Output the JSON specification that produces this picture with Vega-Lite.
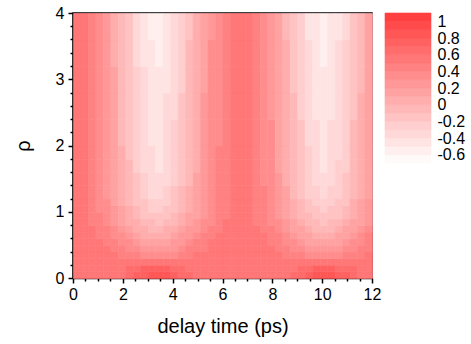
{
"$schema":"https://vega.github.io/schema/vega-lite/v6.json",
"padding":{"left":12,"top":4,"right":2,"bottom":4},
"config":{"view":{"stroke":null},"font":"Liberation Sans","axis":{"labelFont":"Liberation Sans","titleFont":"Liberation Sans","labelColor":"black","titleColor":"black","titleFontWeight":"normal","grid":false,"zindex":1}},
"datasets":{
"a":[
{"t":0.15,"r":0.05,"v":0.55},{"t":0.45,"r":0.05,"v":0.55},{"t":0.75,"r":0.05,"v":0.55},{"t":1.05,"r":0.05,"v":0.55},{"t":1.35,"r":0.05,"v":0.56},{"t":1.65,"r":0.05,"v":0.57},{"t":1.95,"r":0.05,"v":0.59},{"t":2.25,"r":0.05,"v":0.64},{"t":2.55,"r":0.05,"v":0.72},{"t":2.85,"r":0.05,"v":0.79},{"t":3.15,"r":0.05,"v":0.86},{"t":3.45,"r":0.05,"v":0.87},{"t":3.75,"r":0.05,"v":0.82},{"t":4.05,"r":0.05,"v":0.75},{"t":4.35,"r":0.05,"v":0.67},{"t":4.65,"r":0.05,"v":0.61},{"t":4.95,"r":0.05,"v":0.58},{"t":5.25,"r":0.05,"v":0.56},{"t":5.55,"r":0.05,"v":0.55},{"t":5.85,"r":0.05,"v":0.55},{"t":6.15,"r":0.05,"v":0.55},{"t":6.45,"r":0.05,"v":0.55},{"t":6.75,"r":0.05,"v":0.55},{"t":7.05,"r":0.05,"v":0.55},{"t":7.35,"r":0.05,"v":0.55},{"t":7.65,"r":0.05,"v":0.55},{"t":7.95,"r":0.05,"v":0.55},{"t":8.25,"r":0.05,"v":0.56},{"t":8.55,"r":0.05,"v":0.58},{"t":8.85,"r":0.05,"v":0.62},{"t":9.15,"r":0.05,"v":0.68},{"t":9.45,"r":0.05,"v":0.77},{"t":9.75,"r":0.05,"v":0.84},{"t":10.05,"r":0.05,"v":0.87},{"t":10.35,"r":0.05,"v":0.85},{"t":10.65,"r":0.05,"v":0.78},{"t":10.95,"r":0.05,"v":0.70},{"t":11.25,"r":0.05,"v":0.63},{"t":11.55,"r":0.05,"v":0.59},{"t":11.85,"r":0.05,"v":0.56},
{"t":0.15,"r":0.15,"v":0.55},{"t":0.45,"r":0.15,"v":0.55},{"t":0.75,"r":0.15,"v":0.55},{"t":1.05,"r":0.15,"v":0.55},{"t":1.35,"r":0.15,"v":0.55},{"t":1.65,"r":0.15,"v":0.56},{"t":1.95,"r":0.15,"v":0.58},{"t":2.25,"r":0.15,"v":0.61},{"t":2.55,"r":0.15,"v":0.65},{"t":2.85,"r":0.15,"v":0.70},{"t":3.15,"r":0.15,"v":0.74},{"t":3.45,"r":0.15,"v":0.75},{"t":3.75,"r":0.15,"v":0.72},{"t":4.05,"r":0.15,"v":0.67},{"t":4.35,"r":0.15,"v":0.63},{"t":4.65,"r":0.15,"v":0.59},{"t":4.95,"r":0.15,"v":0.57},{"t":5.25,"r":0.15,"v":0.56},{"t":5.55,"r":0.15,"v":0.55},{"t":5.85,"r":0.15,"v":0.55},{"t":6.15,"r":0.15,"v":0.55},{"t":6.45,"r":0.15,"v":0.55},{"t":6.75,"r":0.15,"v":0.55},{"t":7.05,"r":0.15,"v":0.55},{"t":7.35,"r":0.15,"v":0.55},{"t":7.65,"r":0.15,"v":0.55},{"t":7.95,"r":0.15,"v":0.55},{"t":8.25,"r":0.15,"v":0.56},{"t":8.55,"r":0.15,"v":0.57},{"t":8.85,"r":0.15,"v":0.59},{"t":9.15,"r":0.15,"v":0.63},{"t":9.45,"r":0.15,"v":0.68},{"t":9.75,"r":0.15,"v":0.73},{"t":10.05,"r":0.15,"v":0.75},{"t":10.35,"r":0.15,"v":0.74},{"t":10.65,"r":0.15,"v":0.69},{"t":10.95,"r":0.15,"v":0.64},{"t":11.25,"r":0.15,"v":0.60},{"t":11.55,"r":0.15,"v":0.57},{"t":11.85,"r":0.15,"v":0.56},
{"t":0.15,"r":0.25,"v":0.55},{"t":0.45,"r":0.25,"v":0.55},{"t":0.75,"r":0.25,"v":0.55},{"t":1.05,"r":0.25,"v":0.55},{"t":1.35,"r":0.25,"v":0.55},{"t":1.65,"r":0.25,"v":0.55},{"t":1.95,"r":0.25,"v":0.54},{"t":2.25,"r":0.25,"v":0.54},{"t":2.55,"r":0.25,"v":0.55},{"t":2.85,"r":0.25,"v":0.56},{"t":3.15,"r":0.25,"v":0.56},{"t":3.45,"r":0.25,"v":0.56},{"t":3.75,"r":0.25,"v":0.56},{"t":4.05,"r":0.25,"v":0.55},{"t":4.35,"r":0.25,"v":0.54},{"t":4.65,"r":0.25,"v":0.54},{"t":4.95,"r":0.25,"v":0.54},{"t":5.25,"r":0.25,"v":0.55},{"t":5.55,"r":0.25,"v":0.55},{"t":5.85,"r":0.25,"v":0.55},{"t":6.15,"r":0.25,"v":0.55},{"t":6.45,"r":0.25,"v":0.55},{"t":6.75,"r":0.25,"v":0.55},{"t":7.05,"r":0.25,"v":0.55},{"t":7.35,"r":0.25,"v":0.55},{"t":7.65,"r":0.25,"v":0.55},{"t":7.95,"r":0.25,"v":0.55},{"t":8.25,"r":0.25,"v":0.55},{"t":8.55,"r":0.25,"v":0.54},{"t":8.85,"r":0.25,"v":0.54},{"t":9.15,"r":0.25,"v":0.54},{"t":9.45,"r":0.25,"v":0.55},{"t":9.75,"r":0.25,"v":0.56},{"t":10.05,"r":0.25,"v":0.56},{"t":10.35,"r":0.25,"v":0.56},{"t":10.65,"r":0.25,"v":0.55},{"t":10.95,"r":0.25,"v":0.54},{"t":11.25,"r":0.25,"v":0.54},{"t":11.55,"r":0.25,"v":0.54},{"t":11.85,"r":0.25,"v":0.55},
{"t":0.15,"r":0.35,"v":0.55},{"t":0.45,"r":0.35,"v":0.55},{"t":0.75,"r":0.35,"v":0.55},{"t":1.05,"r":0.35,"v":0.54},{"t":1.35,"r":0.35,"v":0.53},{"t":1.65,"r":0.35,"v":0.51},{"t":1.95,"r":0.35,"v":0.48},{"t":2.25,"r":0.35,"v":0.44},{"t":2.55,"r":0.35,"v":0.40},{"t":2.85,"r":0.35,"v":0.37},{"t":3.15,"r":0.35,"v":0.35},{"t":3.45,"r":0.35,"v":0.34},{"t":3.75,"r":0.35,"v":0.36},{"t":4.05,"r":0.35,"v":0.39},{"t":4.35,"r":0.35,"v":0.43},{"t":4.65,"r":0.35,"v":0.46},{"t":4.95,"r":0.35,"v":0.50},{"t":5.25,"r":0.35,"v":0.52},{"t":5.55,"r":0.35,"v":0.54},{"t":5.85,"r":0.35,"v":0.55},{"t":6.15,"r":0.35,"v":0.55},{"t":6.45,"r":0.35,"v":0.55},{"t":6.75,"r":0.35,"v":0.55},{"t":7.05,"r":0.35,"v":0.55},{"t":7.35,"r":0.35,"v":0.55},{"t":7.65,"r":0.35,"v":0.55},{"t":7.95,"r":0.35,"v":0.54},{"t":8.25,"r":0.35,"v":0.52},{"t":8.55,"r":0.35,"v":0.49},{"t":8.85,"r":0.35,"v":0.45},{"t":9.15,"r":0.35,"v":0.42},{"t":9.45,"r":0.35,"v":0.38},{"t":9.75,"r":0.35,"v":0.36},{"t":10.05,"r":0.35,"v":0.34},{"t":10.35,"r":0.35,"v":0.35},{"t":10.65,"r":0.35,"v":0.38},{"t":10.95,"r":0.35,"v":0.41},{"t":11.25,"r":0.35,"v":0.45},{"t":11.55,"r":0.35,"v":0.48},{"t":11.85,"r":0.35,"v":0.51},
{"t":0.15,"r":0.45,"v":0.55},{"t":0.45,"r":0.45,"v":0.55},{"t":0.75,"r":0.45,"v":0.55},{"t":1.05,"r":0.45,"v":0.54},{"t":1.35,"r":0.45,"v":0.50},{"t":1.65,"r":0.45,"v":0.47},{"t":1.95,"r":0.45,"v":0.42},{"t":2.25,"r":0.45,"v":0.36},{"t":2.55,"r":0.45,"v":0.31},{"t":2.85,"r":0.45,"v":0.26},{"t":3.15,"r":0.45,"v":0.23},{"t":3.45,"r":0.45,"v":0.22},{"t":3.75,"r":0.45,"v":0.25},{"t":4.05,"r":0.45,"v":0.29},{"t":4.35,"r":0.45,"v":0.35},{"t":4.65,"r":0.45,"v":0.40},{"t":4.95,"r":0.45,"v":0.45},{"t":5.25,"r":0.45,"v":0.49},{"t":5.55,"r":0.45,"v":0.52},{"t":5.85,"r":0.45,"v":0.54},{"t":6.15,"r":0.45,"v":0.55},{"t":6.45,"r":0.45,"v":0.55},{"t":6.75,"r":0.45,"v":0.55},{"t":7.05,"r":0.45,"v":0.55},{"t":7.35,"r":0.45,"v":0.55},{"t":7.65,"r":0.45,"v":0.54},{"t":7.95,"r":0.45,"v":0.52},{"t":8.25,"r":0.45,"v":0.48},{"t":8.55,"r":0.45,"v":0.44},{"t":8.85,"r":0.45,"v":0.38},{"t":9.15,"r":0.45,"v":0.33},{"t":9.45,"r":0.45,"v":0.28},{"t":9.75,"r":0.45,"v":0.24},{"t":10.05,"r":0.45,"v":0.21},{"t":10.35,"r":0.45,"v":0.24},{"t":10.65,"r":0.45,"v":0.27},{"t":10.95,"r":0.45,"v":0.32},{"t":11.25,"r":0.45,"v":0.37},{"t":11.55,"r":0.45,"v":0.43},{"t":11.85,"r":0.45,"v":0.48},
{"t":0.15,"r":0.55,"v":0.55},{"t":0.45,"r":0.55,"v":0.55},{"t":0.75,"r":0.55,"v":0.54},{"t":1.05,"r":0.55,"v":0.52},{"t":1.35,"r":0.55,"v":0.47},{"t":1.65,"r":0.55,"v":0.43},{"t":1.95,"r":0.55,"v":0.36},{"t":2.25,"r":0.55,"v":0.30},{"t":2.55,"r":0.55,"v":0.24},{"t":2.85,"r":0.55,"v":0.17},{"t":3.15,"r":0.55,"v":0.14},{"t":3.45,"r":0.55,"v":0.12},{"t":3.75,"r":0.55,"v":0.16},{"t":4.05,"r":0.55,"v":0.20},{"t":4.35,"r":0.55,"v":0.27},{"t":4.65,"r":0.55,"v":0.33},{"t":4.95,"r":0.55,"v":0.41},{"t":5.25,"r":0.55,"v":0.46},{"t":5.55,"r":0.55,"v":0.50},{"t":5.85,"r":0.55,"v":0.53},{"t":6.15,"r":0.55,"v":0.55},{"t":6.45,"r":0.55,"v":0.55},{"t":6.75,"r":0.55,"v":0.55},{"t":7.05,"r":0.55,"v":0.55},{"t":7.35,"r":0.55,"v":0.55},{"t":7.65,"r":0.55,"v":0.53},{"t":7.95,"r":0.55,"v":0.49},{"t":8.25,"r":0.55,"v":0.45},{"t":8.55,"r":0.55,"v":0.39},{"t":8.85,"r":0.55,"v":0.32},{"t":9.15,"r":0.55,"v":0.26},{"t":9.45,"r":0.55,"v":0.19},{"t":9.75,"r":0.55,"v":0.15},{"t":10.05,"r":0.55,"v":0.11},{"t":10.35,"r":0.55,"v":0.14},{"t":10.65,"r":0.55,"v":0.18},{"t":10.95,"r":0.55,"v":0.25},{"t":11.25,"r":0.55,"v":0.31},{"t":11.55,"r":0.55,"v":0.38},{"t":11.85,"r":0.55,"v":0.44},
{"t":0.15,"r":0.65,"v":0.55},{"t":0.45,"r":0.65,"v":0.55},{"t":0.75,"r":0.65,"v":0.53},{"t":1.05,"r":0.65,"v":0.49},{"t":1.35,"r":0.65,"v":0.44},{"t":1.65,"r":0.65,"v":0.39},{"t":1.95,"r":0.65,"v":0.30},{"t":2.25,"r":0.65,"v":0.23},{"t":2.55,"r":0.65,"v":0.15},{"t":2.85,"r":0.65,"v":0.09},{"t":3.15,"r":0.65,"v":0.05},{"t":3.45,"r":0.65,"v":0.03},{"t":3.75,"r":0.65,"v":0.07},{"t":4.05,"r":0.65,"v":0.12},{"t":4.35,"r":0.65,"v":0.20},{"t":4.65,"r":0.65,"v":0.27},{"t":4.95,"r":0.65,"v":0.35},{"t":5.25,"r":0.65,"v":0.42},{"t":5.55,"r":0.65,"v":0.47},{"t":5.85,"r":0.65,"v":0.52},{"t":6.15,"r":0.65,"v":0.54},{"t":6.45,"r":0.65,"v":0.55},{"t":6.75,"r":0.65,"v":0.55},{"t":7.05,"r":0.65,"v":0.55},{"t":7.35,"r":0.65,"v":0.54},{"t":7.65,"r":0.65,"v":0.51},{"t":7.95,"r":0.65,"v":0.46},{"t":8.25,"r":0.65,"v":0.41},{"t":8.55,"r":0.65,"v":0.34},{"t":8.85,"r":0.65,"v":0.26},{"t":9.15,"r":0.65,"v":0.19},{"t":9.45,"r":0.65,"v":0.11},{"t":9.75,"r":0.65,"v":0.06},{"t":10.05,"r":0.65,"v":0.02},{"t":10.35,"r":0.65,"v":0.06},{"t":10.65,"r":0.65,"v":0.10},{"t":10.95,"r":0.65,"v":0.17},{"t":11.25,"r":0.65,"v":0.24},{"t":11.55,"r":0.65,"v":0.32},{"t":11.85,"r":0.65,"v":0.40},
{"t":0.15,"r":0.75,"v":0.55},{"t":0.45,"r":0.75,"v":0.54},{"t":0.75,"r":0.75,"v":0.51},{"t":1.05,"r":0.75,"v":0.45},{"t":1.35,"r":0.75,"v":0.40},{"t":1.65,"r":0.75,"v":0.33},{"t":1.95,"r":0.75,"v":0.24},{"t":2.25,"r":0.75,"v":0.16},{"t":2.55,"r":0.75,"v":0.08},{"t":2.85,"r":0.75,"v":0.01},{"t":3.15,"r":0.75,"v":-0.03},{"t":3.45,"r":0.75,"v":-0.05},{"t":3.75,"r":0.75,"v":0.00},{"t":4.05,"r":0.75,"v":0.05},{"t":4.35,"r":0.75,"v":0.13},{"t":4.65,"r":0.75,"v":0.21},{"t":4.95,"r":0.75,"v":0.29},{"t":5.25,"r":0.75,"v":0.37},{"t":5.55,"r":0.75,"v":0.43},{"t":5.85,"r":0.75,"v":0.49},{"t":6.15,"r":0.75,"v":0.53},{"t":6.45,"r":0.75,"v":0.55},{"t":6.75,"r":0.75,"v":0.55},{"t":7.05,"r":0.75,"v":0.54},{"t":7.35,"r":0.75,"v":0.52},{"t":7.65,"r":0.75,"v":0.47},{"t":7.95,"r":0.75,"v":0.43},{"t":8.25,"r":0.75,"v":0.36},{"t":8.55,"r":0.75,"v":0.27},{"t":8.85,"r":0.75,"v":0.19},{"t":9.15,"r":0.75,"v":0.11},{"t":9.45,"r":0.75,"v":0.04},{"t":9.75,"r":0.75,"v":-0.01},{"t":10.05,"r":0.75,"v":-0.06},{"t":10.35,"r":0.75,"v":-0.02},{"t":10.65,"r":0.75,"v":0.02},{"t":10.95,"r":0.75,"v":0.10},{"t":11.25,"r":0.75,"v":0.18},{"t":11.55,"r":0.75,"v":0.26},{"t":11.85,"r":0.75,"v":0.34},
{"t":0.15,"r":0.85,"v":0.54},{"t":0.45,"r":0.85,"v":0.52},{"t":0.75,"r":0.85,"v":0.47},{"t":1.05,"r":0.85,"v":0.41},{"t":1.35,"r":0.85,"v":0.35},{"t":1.65,"r":0.85,"v":0.26},{"t":1.95,"r":0.85,"v":0.17},{"t":2.25,"r":0.85,"v":0.09},{"t":2.55,"r":0.85,"v":0.01},{"t":2.85,"r":0.85,"v":-0.06},{"t":3.15,"r":0.85,"v":-0.10},{"t":3.45,"r":0.85,"v":-0.12},{"t":3.75,"r":0.85,"v":-0.07},{"t":4.05,"r":0.85,"v":-0.02},{"t":4.35,"r":0.85,"v":0.06},{"t":4.65,"r":0.85,"v":0.14},{"t":4.95,"r":0.85,"v":0.22},{"t":5.25,"r":0.85,"v":0.32},{"t":5.55,"r":0.85,"v":0.39},{"t":5.85,"r":0.85,"v":0.44},{"t":6.15,"r":0.85,"v":0.50},{"t":6.45,"r":0.85,"v":0.53},{"t":6.75,"r":0.85,"v":0.55},{"t":7.05,"r":0.85,"v":0.53},{"t":7.35,"r":0.85,"v":0.49},{"t":7.65,"r":0.85,"v":0.43},{"t":7.95,"r":0.85,"v":0.38},{"t":8.25,"r":0.85,"v":0.30},{"t":8.55,"r":0.85,"v":0.20},{"t":8.85,"r":0.85,"v":0.13},{"t":9.15,"r":0.85,"v":0.04},{"t":9.45,"r":0.85,"v":-0.04},{"t":9.75,"r":0.85,"v":-0.08},{"t":10.05,"r":0.85,"v":-0.13},{"t":10.35,"r":0.85,"v":-0.09},{"t":10.65,"r":0.85,"v":-0.05},{"t":10.95,"r":0.85,"v":0.02},{"t":11.25,"r":0.85,"v":0.11},{"t":11.55,"r":0.85,"v":0.19},{"t":11.85,"r":0.85,"v":0.28},
{"t":0.15,"r":0.95,"v":0.54},{"t":0.45,"r":0.95,"v":0.52},{"t":0.75,"r":0.95,"v":0.46},{"t":1.05,"r":0.95,"v":0.40},{"t":1.35,"r":0.95,"v":0.33},{"t":1.65,"r":0.95,"v":0.23},{"t":1.95,"r":0.95,"v":0.14},{"t":2.25,"r":0.95,"v":0.05},{"t":2.55,"r":0.95,"v":-0.05},{"t":2.85,"r":0.95,"v":-0.12},{"t":3.15,"r":0.95,"v":-0.17},{"t":3.45,"r":0.95,"v":-0.19},{"t":3.75,"r":0.95,"v":-0.14},{"t":4.05,"r":0.95,"v":-0.08},{"t":4.35,"r":0.95,"v":0.01},{"t":4.65,"r":0.95,"v":0.10},{"t":4.95,"r":0.95,"v":0.19},{"t":5.25,"r":0.95,"v":0.29},{"t":5.55,"r":0.95,"v":0.38},{"t":5.85,"r":0.95,"v":0.43},{"t":6.15,"r":0.95,"v":0.49},{"t":6.45,"r":0.95,"v":0.53},{"t":6.75,"r":0.95,"v":0.55},{"t":7.05,"r":0.95,"v":0.53},{"t":7.35,"r":0.95,"v":0.48},{"t":7.65,"r":0.95,"v":0.42},{"t":7.95,"r":0.95,"v":0.36},{"t":8.25,"r":0.95,"v":0.27},{"t":8.55,"r":0.95,"v":0.17},{"t":8.85,"r":0.95,"v":0.08},{"t":9.15,"r":0.95,"v":-0.01},{"t":9.45,"r":0.95,"v":-0.10},{"t":9.75,"r":0.95,"v":-0.15},{"t":10.05,"r":0.95,"v":-0.20},{"t":10.35,"r":0.95,"v":-0.16},{"t":10.65,"r":0.95,"v":-0.11},{"t":10.95,"r":0.95,"v":-0.03},{"t":11.25,"r":0.95,"v":0.07},{"t":11.55,"r":0.95,"v":0.15},{"t":11.85,"r":0.95,"v":0.25},
{"t":0.15,"r":1.05,"v":0.54},{"t":0.45,"r":1.05,"v":0.51},{"t":0.75,"r":1.05,"v":0.45},{"t":1.05,"r":1.05,"v":0.39},{"t":1.35,"r":1.05,"v":0.32},{"t":1.65,"r":1.05,"v":0.21},{"t":1.95,"r":1.05,"v":0.11},{"t":2.25,"r":1.05,"v":0.02},{"t":2.55,"r":1.05,"v":-0.08},{"t":2.85,"r":1.05,"v":-0.16},{"t":3.15,"r":1.05,"v":-0.21},{"t":3.45,"r":1.05,"v":-0.23},{"t":3.75,"r":1.05,"v":-0.18},{"t":4.05,"r":1.05,"v":-0.12},{"t":4.35,"r":1.05,"v":-0.02},{"t":4.65,"r":1.05,"v":0.07},{"t":4.95,"r":1.05,"v":0.17},{"t":5.25,"r":1.05,"v":0.28},{"t":5.55,"r":1.05,"v":0.37},{"t":5.85,"r":1.05,"v":0.43},{"t":6.15,"r":1.05,"v":0.49},{"t":6.45,"r":1.05,"v":0.53},{"t":6.75,"r":1.05,"v":0.55},{"t":7.05,"r":1.05,"v":0.52},{"t":7.35,"r":1.05,"v":0.48},{"t":7.65,"r":1.05,"v":0.41},{"t":7.95,"r":1.05,"v":0.35},{"t":8.25,"r":1.05,"v":0.26},{"t":8.55,"r":1.05,"v":0.15},{"t":8.85,"r":1.05,"v":0.06},{"t":9.15,"r":1.05,"v":-0.05},{"t":9.45,"r":1.05,"v":-0.13},{"t":9.75,"r":1.05,"v":-0.19},{"t":10.05,"r":1.05,"v":-0.24},{"t":10.35,"r":1.05,"v":-0.20},{"t":10.65,"r":1.05,"v":-0.15},{"t":10.95,"r":1.05,"v":-0.07},{"t":11.25,"r":1.05,"v":0.04},{"t":11.55,"r":1.05,"v":0.13},{"t":11.85,"r":1.05,"v":0.23},
{"t":0.15,"r":1.15,"v":0.54},{"t":0.45,"r":1.15,"v":0.51},{"t":0.75,"r":1.15,"v":0.45},{"t":1.05,"r":1.15,"v":0.38},{"t":1.35,"r":1.15,"v":0.30},{"t":1.65,"r":1.15,"v":0.19},{"t":1.95,"r":1.15,"v":0.08},{"t":2.25,"r":1.15,"v":-0.02},{"t":2.55,"r":1.15,"v":-0.12},{"t":2.85,"r":1.15,"v":-0.20},{"t":3.15,"r":1.15,"v":-0.26},{"t":3.45,"r":1.15,"v":-0.28},{"t":3.75,"r":1.15,"v":-0.22},{"t":4.05,"r":1.15,"v":-0.16},{"t":4.35,"r":1.15,"v":-0.06},{"t":4.65,"r":1.15,"v":0.04},{"t":4.95,"r":1.15,"v":0.14},{"t":5.25,"r":1.15,"v":0.26},{"t":5.55,"r":1.15,"v":0.35},{"t":5.85,"r":1.15,"v":0.42},{"t":6.15,"r":1.15,"v":0.49},{"t":6.45,"r":1.15,"v":0.53},{"t":6.75,"r":1.15,"v":0.55},{"t":7.05,"r":1.15,"v":0.52},{"t":7.35,"r":1.15,"v":0.47},{"t":7.65,"r":1.15,"v":0.41},{"t":7.95,"r":1.15,"v":0.34},{"t":8.25,"r":1.15,"v":0.24},{"t":8.55,"r":1.15,"v":0.12},{"t":8.85,"r":1.15,"v":0.02},{"t":9.15,"r":1.15,"v":-0.08},{"t":9.45,"r":1.15,"v":-0.18},{"t":9.75,"r":1.15,"v":-0.23},{"t":10.05,"r":1.15,"v":-0.29},{"t":10.35,"r":1.15,"v":-0.25},{"t":10.65,"r":1.15,"v":-0.19},{"t":10.95,"r":1.15,"v":-0.11},{"t":11.25,"r":1.15,"v":0.00},{"t":11.55,"r":1.15,"v":0.10},{"t":11.85,"r":1.15,"v":0.21}
],
"b":[
{"t":0.15,"r":1.3,"v":0.54},{"t":0.45,"r":1.3,"v":0.51},{"t":0.75,"r":1.3,"v":0.44},{"t":1.05,"r":1.3,"v":0.37},{"t":1.35,"r":1.3,"v":0.29},{"t":1.65,"r":1.3,"v":0.17},{"t":1.95,"r":1.3,"v":0.05},{"t":2.25,"r":1.3,"v":-0.05},{"t":2.55,"r":1.3,"v":-0.17},{"t":2.85,"r":1.3,"v":-0.25},{"t":3.15,"r":1.3,"v":-0.31},{"t":3.45,"r":1.3,"v":-0.33},{"t":3.75,"r":1.3,"v":-0.27},{"t":4.05,"r":1.3,"v":-0.20},{"t":4.35,"r":1.3,"v":-0.10},{"t":4.65,"r":1.3,"v":0.01},{"t":4.95,"r":1.3,"v":0.12},{"t":5.25,"r":1.3,"v":0.24},{"t":5.55,"r":1.3,"v":0.34},{"t":5.85,"r":1.3,"v":0.41},{"t":6.15,"r":1.3,"v":0.48},{"t":6.45,"r":1.3,"v":0.53},{"t":6.75,"r":1.3,"v":0.55},{"t":7.05,"r":1.3,"v":0.52},{"t":7.35,"r":1.3,"v":0.47},{"t":7.65,"r":1.3,"v":0.40},{"t":7.95,"r":1.3,"v":0.32},{"t":8.25,"r":1.3,"v":0.22},{"t":8.55,"r":1.3,"v":0.10},{"t":8.85,"r":1.3,"v":-0.01},{"t":9.15,"r":1.3,"v":-0.12},{"t":9.45,"r":1.3,"v":-0.22},{"t":9.75,"r":1.3,"v":-0.28},{"t":10.05,"r":1.3,"v":-0.35},{"t":10.35,"r":1.3,"v":-0.30},{"t":10.65,"r":1.3,"v":-0.24},{"t":10.95,"r":1.3,"v":-0.15},{"t":11.25,"r":1.3,"v":-0.03},{"t":11.55,"r":1.3,"v":0.07},{"t":11.85,"r":1.3,"v":0.19},
{"t":0.15,"r":1.5,"v":0.54},{"t":0.45,"r":1.5,"v":0.51},{"t":0.75,"r":1.5,"v":0.43},{"t":1.05,"r":1.5,"v":0.36},{"t":1.35,"r":1.5,"v":0.27},{"t":1.65,"r":1.5,"v":0.15},{"t":1.95,"r":1.5,"v":0.03},{"t":2.25,"r":1.5,"v":-0.08},{"t":2.55,"r":1.5,"v":-0.20},{"t":2.85,"r":1.5,"v":-0.29},{"t":3.15,"r":1.5,"v":-0.35},{"t":3.45,"r":1.5,"v":-0.38},{"t":3.75,"r":1.5,"v":-0.31},{"t":4.05,"r":1.5,"v":-0.24},{"t":4.35,"r":1.5,"v":-0.13},{"t":4.65,"r":1.5,"v":-0.02},{"t":4.95,"r":1.5,"v":0.10},{"t":5.25,"r":1.5,"v":0.23},{"t":5.55,"r":1.5,"v":0.33},{"t":5.85,"r":1.5,"v":0.40},{"t":6.15,"r":1.5,"v":0.48},{"t":6.45,"r":1.5,"v":0.52},{"t":6.75,"r":1.5,"v":0.55},{"t":7.05,"r":1.5,"v":0.52},{"t":7.35,"r":1.5,"v":0.46},{"t":7.65,"r":1.5,"v":0.39},{"t":7.95,"r":1.5,"v":0.31},{"t":8.25,"r":1.5,"v":0.20},{"t":8.55,"r":1.5,"v":0.07},{"t":8.85,"r":1.5,"v":-0.04},{"t":9.15,"r":1.5,"v":-0.16},{"t":9.45,"r":1.5,"v":-0.26},{"t":9.75,"r":1.5,"v":-0.33},{"t":10.05,"r":1.5,"v":-0.39},{"t":10.35,"r":1.5,"v":-0.34},{"t":10.65,"r":1.5,"v":-0.28},{"t":10.95,"r":1.5,"v":-0.19},{"t":11.25,"r":1.5,"v":-0.06},{"t":11.55,"r":1.5,"v":0.05},{"t":11.85,"r":1.5,"v":0.17},
{"t":0.15,"r":1.7,"v":0.54},{"t":0.45,"r":1.7,"v":0.51},{"t":0.75,"r":1.7,"v":0.43},{"t":1.05,"r":1.7,"v":0.36},{"t":1.35,"r":1.7,"v":0.26},{"t":1.65,"r":1.7,"v":0.14},{"t":1.95,"r":1.7,"v":0.01},{"t":2.25,"r":1.7,"v":-0.10},{"t":2.55,"r":1.7,"v":-0.23},{"t":2.85,"r":1.7,"v":-0.31},{"t":3.15,"r":1.7,"v":-0.38},{"t":3.45,"r":1.7,"v":-0.41},{"t":3.75,"r":1.7,"v":-0.34},{"t":4.05,"r":1.7,"v":-0.27},{"t":4.35,"r":1.7,"v":-0.15},{"t":4.65,"r":1.7,"v":-0.03},{"t":4.95,"r":1.7,"v":0.08},{"t":5.25,"r":1.7,"v":0.22},{"t":5.55,"r":1.7,"v":0.33},{"t":5.85,"r":1.7,"v":0.40},{"t":6.15,"r":1.7,"v":0.48},{"t":6.45,"r":1.7,"v":0.52},{"t":6.75,"r":1.7,"v":0.55},{"t":7.05,"r":1.7,"v":0.52},{"t":7.35,"r":1.7,"v":0.46},{"t":7.65,"r":1.7,"v":0.38},{"t":7.95,"r":1.7,"v":0.30},{"t":8.25,"r":1.7,"v":0.19},{"t":8.55,"r":1.7,"v":0.06},{"t":8.85,"r":1.7,"v":-0.06},{"t":9.15,"r":1.7,"v":-0.18},{"t":9.45,"r":1.7,"v":-0.29},{"t":9.75,"r":1.7,"v":-0.35},{"t":10.05,"r":1.7,"v":-0.42},{"t":10.35,"r":1.7,"v":-0.37},{"t":10.65,"r":1.7,"v":-0.30},{"t":10.95,"r":1.7,"v":-0.21},{"t":11.25,"r":1.7,"v":-0.08},{"t":11.55,"r":1.7,"v":0.03},{"t":11.85,"r":1.7,"v":0.16},
{"t":0.15,"r":1.9,"v":0.54},{"t":0.45,"r":1.9,"v":0.51},{"t":0.75,"r":1.9,"v":0.43},{"t":1.05,"r":1.9,"v":0.35},{"t":1.35,"r":1.9,"v":0.26},{"t":1.65,"r":1.9,"v":0.13},{"t":1.95,"r":1.9,"v":0.01},{"t":2.25,"r":1.9,"v":-0.11},{"t":2.55,"r":1.9,"v":-0.24},{"t":2.85,"r":1.9,"v":-0.33},{"t":3.15,"r":1.9,"v":-0.39},{"t":3.45,"r":1.9,"v":-0.42},{"t":3.75,"r":1.9,"v":-0.35},{"t":4.05,"r":1.9,"v":-0.28},{"t":4.35,"r":1.9,"v":-0.16},{"t":4.65,"r":1.9,"v":-0.04},{"t":4.95,"r":1.9,"v":0.08},{"t":5.25,"r":1.9,"v":0.21},{"t":5.55,"r":1.9,"v":0.32},{"t":5.85,"r":1.9,"v":0.40},{"t":6.15,"r":1.9,"v":0.47},{"t":6.45,"r":1.9,"v":0.52},{"t":6.75,"r":1.9,"v":0.55},{"t":7.05,"r":1.9,"v":0.52},{"t":7.35,"r":1.9,"v":0.46},{"t":7.65,"r":1.9,"v":0.38},{"t":7.95,"r":1.9,"v":0.30},{"t":8.25,"r":1.9,"v":0.19},{"t":8.55,"r":1.9,"v":0.05},{"t":8.85,"r":1.9,"v":-0.06},{"t":9.15,"r":1.9,"v":-0.19},{"t":9.45,"r":1.9,"v":-0.30},{"t":9.75,"r":1.9,"v":-0.37},{"t":10.05,"r":1.9,"v":-0.44},{"t":10.35,"r":1.9,"v":-0.38},{"t":10.65,"r":1.9,"v":-0.31},{"t":10.95,"r":1.9,"v":-0.22},{"t":11.25,"r":1.9,"v":-0.09},{"t":11.55,"r":1.9,"v":0.03},{"t":11.85,"r":1.9,"v":0.16}
],
"c":[
{"t":0.15,"r":2.2,"v":0.53},{"t":0.45,"r":2.2,"v":0.50},{"t":0.75,"r":2.2,"v":0.43},{"t":1.05,"r":2.2,"v":0.35},{"t":1.35,"r":2.2,"v":0.25},{"t":1.65,"r":2.2,"v":0.12},{"t":1.95,"r":2.2,"v":-0.01},{"t":2.25,"r":2.2,"v":-0.12},{"t":2.55,"r":2.2,"v":-0.25},{"t":2.85,"r":2.2,"v":-0.34},{"t":3.15,"r":2.2,"v":-0.41},{"t":3.45,"r":2.2,"v":-0.44},{"t":3.75,"r":2.2,"v":-0.37},{"t":4.05,"r":2.2,"v":-0.29},{"t":4.35,"r":2.2,"v":-0.18},{"t":4.65,"r":2.2,"v":-0.05},{"t":4.95,"r":2.2,"v":0.07},{"t":5.25,"r":2.2,"v":0.21},{"t":5.55,"r":2.2,"v":0.32},{"t":5.85,"r":2.2,"v":0.39},{"t":6.15,"r":2.2,"v":0.47},{"t":6.45,"r":2.2,"v":0.52},{"t":6.75,"r":2.2,"v":0.55},{"t":7.05,"r":2.2,"v":0.52},{"t":7.35,"r":2.2,"v":0.46},{"t":7.65,"r":2.2,"v":0.38},{"t":7.95,"r":2.2,"v":0.30},{"t":8.25,"r":2.2,"v":0.18},{"t":8.55,"r":2.2,"v":0.04},{"t":8.85,"r":2.2,"v":-0.08},{"t":9.15,"r":2.2,"v":-0.20},{"t":9.45,"r":2.2,"v":-0.31},{"t":9.75,"r":2.2,"v":-0.38},{"t":10.05,"r":2.2,"v":-0.45},{"t":10.35,"r":2.2,"v":-0.40},{"t":10.65,"r":2.2,"v":-0.33},{"t":10.95,"r":2.2,"v":-0.23},{"t":11.25,"r":2.2,"v":-0.10},{"t":11.55,"r":2.2,"v":0.02},{"t":11.85,"r":2.2,"v":0.15},
{"t":0.15,"r":2.6,"v":0.53},{"t":0.45,"r":2.6,"v":0.50},{"t":0.75,"r":2.6,"v":0.42},{"t":1.05,"r":2.6,"v":0.34},{"t":1.35,"r":2.6,"v":0.25},{"t":1.65,"r":2.6,"v":0.11},{"t":1.95,"r":2.6,"v":-0.02},{"t":2.25,"r":2.6,"v":-0.14},{"t":2.55,"r":2.6,"v":-0.27},{"t":2.85,"r":2.6,"v":-0.37},{"t":3.15,"r":2.6,"v":-0.43},{"t":3.45,"r":2.6,"v":-0.46},{"t":3.75,"r":2.6,"v":-0.39},{"t":4.05,"r":2.6,"v":-0.32},{"t":4.35,"r":2.6,"v":-0.19},{"t":4.65,"r":2.6,"v":-0.07},{"t":4.95,"r":2.6,"v":0.06},{"t":5.25,"r":2.6,"v":0.20},{"t":5.55,"r":2.6,"v":0.31},{"t":5.85,"r":2.6,"v":0.39},{"t":6.15,"r":2.6,"v":0.47},{"t":6.45,"r":2.6,"v":0.52},{"t":6.75,"r":2.6,"v":0.55},{"t":7.05,"r":2.6,"v":0.52},{"t":7.35,"r":2.6,"v":0.45},{"t":7.65,"r":2.6,"v":0.37},{"t":7.95,"r":2.6,"v":0.29},{"t":8.25,"r":2.6,"v":0.17},{"t":8.55,"r":2.6,"v":0.03},{"t":8.85,"r":2.6,"v":-0.09},{"t":9.15,"r":2.6,"v":-0.22},{"t":9.45,"r":2.6,"v":-0.34},{"t":9.75,"r":2.6,"v":-0.41},{"t":10.05,"r":2.6,"v":-0.48},{"t":10.35,"r":2.6,"v":-0.42},{"t":10.65,"r":2.6,"v":-0.35},{"t":10.95,"r":2.6,"v":-0.25},{"t":11.25,"r":2.6,"v":-0.12},{"t":11.55,"r":2.6,"v":0.00},{"t":11.85,"r":2.6,"v":0.14},
{"t":0.15,"r":3.0,"v":0.53},{"t":0.45,"r":3.0,"v":0.50},{"t":0.75,"r":3.0,"v":0.42},{"t":1.05,"r":3.0,"v":0.34},{"t":1.35,"r":3.0,"v":0.24},{"t":1.65,"r":3.0,"v":0.10},{"t":1.95,"r":3.0,"v":-0.03},{"t":2.25,"r":3.0,"v":-0.16},{"t":2.55,"r":3.0,"v":-0.29},{"t":2.85,"r":3.0,"v":-0.39},{"t":3.15,"r":3.0,"v":-0.46},{"t":3.45,"r":3.0,"v":-0.49},{"t":3.75,"r":3.0,"v":-0.42},{"t":4.05,"r":3.0,"v":-0.34},{"t":4.35,"r":3.0,"v":-0.21},{"t":4.65,"r":3.0,"v":-0.08},{"t":4.95,"r":3.0,"v":0.04},{"t":5.25,"r":3.0,"v":0.19},{"t":5.55,"r":3.0,"v":0.31},{"t":5.85,"r":3.0,"v":0.39},{"t":6.15,"r":3.0,"v":0.47},{"t":6.45,"r":3.0,"v":0.52},{"t":6.75,"r":3.0,"v":0.55},{"t":7.05,"r":3.0,"v":0.51},{"t":7.35,"r":3.0,"v":0.45},{"t":7.65,"r":3.0,"v":0.37},{"t":7.95,"r":3.0,"v":0.28},{"t":8.25,"r":3.0,"v":0.16},{"t":8.55,"r":3.0,"v":0.01},{"t":8.85,"r":3.0,"v":-0.11},{"t":9.15,"r":3.0,"v":-0.24},{"t":9.45,"r":3.0,"v":-0.36},{"t":9.75,"r":3.0,"v":-0.43},{"t":10.05,"r":3.0,"v":-0.49},{"t":10.35,"r":3.0,"v":-0.44},{"t":10.65,"r":3.0,"v":-0.38},{"t":10.95,"r":3.0,"v":-0.27},{"t":11.25,"r":3.0,"v":-0.13},{"t":11.55,"r":3.0,"v":-0.01},{"t":11.85,"r":3.0,"v":0.13},
{"t":0.15,"r":3.4,"v":0.53},{"t":0.45,"r":3.4,"v":0.50},{"t":0.75,"r":3.4,"v":0.42},{"t":1.05,"r":3.4,"v":0.33},{"t":1.35,"r":3.4,"v":0.23},{"t":1.65,"r":3.4,"v":0.09},{"t":1.95,"r":3.4,"v":-0.05},{"t":2.25,"r":3.4,"v":-0.18},{"t":2.55,"r":3.4,"v":-0.31},{"t":2.85,"r":3.4,"v":-0.41},{"t":3.15,"r":3.4,"v":-0.48},{"t":3.45,"r":3.4,"v":-0.52},{"t":3.75,"r":3.4,"v":-0.44},{"t":4.05,"r":3.4,"v":-0.36},{"t":4.35,"r":3.4,"v":-0.23},{"t":4.65,"r":3.4,"v":-0.10},{"t":4.95,"r":3.4,"v":0.03},{"t":5.25,"r":3.4,"v":0.18},{"t":5.55,"r":3.4,"v":0.30},{"t":5.85,"r":3.4,"v":0.38},{"t":6.15,"r":3.4,"v":0.47},{"t":6.45,"r":3.4,"v":0.52},{"t":6.75,"r":3.4,"v":0.55},{"t":7.05,"r":3.4,"v":0.51},{"t":7.35,"r":3.4,"v":0.45},{"t":7.65,"r":3.4,"v":0.37},{"t":7.95,"r":3.4,"v":0.28},{"t":8.25,"r":3.4,"v":0.15},{"t":8.55,"r":3.4,"v":0.00},{"t":8.85,"r":3.4,"v":-0.12},{"t":9.15,"r":3.4,"v":-0.26},{"t":9.45,"r":3.4,"v":-0.38},{"t":9.75,"r":3.4,"v":-0.46},{"t":10.05,"r":3.4,"v":-0.53},{"t":10.35,"r":3.4,"v":-0.47},{"t":10.65,"r":3.4,"v":-0.40},{"t":10.95,"r":3.4,"v":-0.29},{"t":11.25,"r":3.4,"v":-0.15},{"t":11.55,"r":3.4,"v":-0.02},{"t":11.85,"r":3.4,"v":0.12},
{"t":0.15,"r":3.8,"v":0.53},{"t":0.45,"r":3.8,"v":0.50},{"t":0.75,"r":3.8,"v":0.41},{"t":1.05,"r":3.8,"v":0.33},{"t":1.35,"r":3.8,"v":0.22},{"t":1.65,"r":3.8,"v":0.08},{"t":1.95,"r":3.8,"v":-0.06},{"t":2.25,"r":3.8,"v":-0.20},{"t":2.55,"r":3.8,"v":-0.34},{"t":2.85,"r":3.8,"v":-0.44},{"t":3.15,"r":3.8,"v":-0.51},{"t":3.45,"r":3.8,"v":-0.54},{"t":3.75,"r":3.8,"v":-0.47},{"t":4.05,"r":3.8,"v":-0.38},{"t":4.35,"r":3.8,"v":-0.25},{"t":4.65,"r":3.8,"v":-0.12},{"t":4.95,"r":3.8,"v":0.02},{"t":5.25,"r":3.8,"v":0.17},{"t":5.55,"r":3.8,"v":0.29},{"t":5.85,"r":3.8,"v":0.38},{"t":6.15,"r":3.8,"v":0.46},{"t":6.45,"r":3.8,"v":0.52},{"t":6.75,"r":3.8,"v":0.55},{"t":7.05,"r":3.8,"v":0.51},{"t":7.35,"r":3.8,"v":0.45},{"t":7.65,"r":3.8,"v":0.36},{"t":7.95,"r":3.8,"v":0.27},{"t":8.25,"r":3.8,"v":0.14},{"t":8.55,"r":3.8,"v":-0.01},{"t":8.85,"r":3.8,"v":-0.14},{"t":9.15,"r":3.8,"v":-0.29},{"t":9.45,"r":3.8,"v":-0.41},{"t":9.75,"r":3.8,"v":-0.48},{"t":10.05,"r":3.8,"v":-0.56},{"t":10.35,"r":3.8,"v":-0.50},{"t":10.65,"r":3.8,"v":-0.43},{"t":10.95,"r":3.8,"v":-0.32},{"t":11.25,"r":3.8,"v":-0.17},{"t":11.55,"r":3.8,"v":-0.04},{"t":11.85,"r":3.8,"v":0.11}
],
"leg":[
{"lo":-0.7,"hi":-0.6,"v":-0.65},{"lo":-0.6,"hi":-0.5,"v":-0.55},{"lo":-0.5,"hi":-0.4,"v":-0.45},{"lo":-0.4,"hi":-0.3,"v":-0.35},{"lo":-0.3,"hi":-0.2,"v":-0.25},{"lo":-0.2,"hi":-0.1,"v":-0.15},{"lo":-0.1,"hi":0,"v":-0.05},{"lo":0,"hi":0.1,"v":0.05},{"lo":0.1,"hi":0.2,"v":0.15},{"lo":0.2,"hi":0.3,"v":0.25},{"lo":0.3,"hi":0.4,"v":0.35},{"lo":0.4,"hi":0.5,"v":0.45},{"lo":0.5,"hi":0.6,"v":0.55},{"lo":0.6,"hi":0.7,"v":0.65},{"lo":0.7,"hi":0.8,"v":0.75},{"lo":0.8,"hi":0.9,"v":0.85},{"lo":0.9,"hi":1.0,"v":0.95},{"lo":1.0,"hi":1.1,"v":1.05}
]
},
"spacing":13,
"bounds":"flush",
"hconcat":[
{
"width":299,"height":265,
"view":{"stroke":"black","strokeWidth":1.5},
"encoding":{
"x":{"field":"t","type":"quantitative","bin":{"step":0.3,"extent":[0,12]},"title":"delay time (ps)","scale":{"domain":[0,12],"nice":false,"zero":false},
"axis":{"values":[0,0.5,1,1.5,2,2.5,3,3.5,4,4.5,5,5.5,6,6.5,7,7.5,8,8.5,9,9.5,10,10.5,11,11.5,12],"format":"~g","labelExpr":"datum.value % 2 === 0 ? datum.label : ''","tickSize":{"condition":{"test":"datum.value % 2 === 0","value":5},"value":3},"tickColor":"black","tickWidth":1.5,"domainColor":"black","domainWidth":1.5,"labelFontSize":16,"labelPadding":3,"labelFlush":false,"labelOverlap":false,"titleFontSize":20,"titlePadding":14}},
"color":{"field":"v","type":"quantitative","legend":null,"scale":{"type":"threshold","domain":[-0.6,-0.5,-0.4,-0.3,-0.2,-0.1,0,0.1,0.2,0.3,0.4,0.5,0.6,0.7,0.8,0.9,1.0],"range":["#fffafa","#ffefef","#ffe4e4","#ffd9d9","#ffcece","#ffc3c3","#ffb8b8","#ffadad","#ffa2a2","#ff9898","#ff8d8d","#ff8282","#ff7777","#ff6c6c","#ff6161","#ff5656","#ff4b4b","#ff4040"]}},
"stroke":{"field":"v","type":"quantitative","legend":null,"scale":{"type":"threshold","domain":[-0.6,-0.5,-0.4,-0.3,-0.2,-0.1,0,0.1,0.2,0.3,0.4,0.5,0.6,0.7,0.8,0.9,1.0],"range":["#fffafa","#ffefef","#ffe4e4","#ffd9d9","#ffcece","#ffc3c3","#ffb8b8","#ffadad","#ffa2a2","#ff9898","#ff8d8d","#ff8282","#ff7777","#ff6c6c","#ff6161","#ff5656","#ff4b4b","#ff4040"]}}
},
"layer":[
{"data":{"name":"a"},"mark":{"type":"rect","strokeWidth":0.6},
"encoding":{"y":{"field":"r","type":"quantitative","bin":{"step":0.1,"extent":[0,1.2]},"title":"ρ","scale":{"domain":[0,4],"nice":false,"zero":false},
"axis":{"values":[0,0.2,0.4,0.6,0.8,1,1.2,1.4,1.6,1.8,2,2.2,2.4,2.6,2.8,3,3.2,3.4,3.6,3.8,4],"format":"~g","labelExpr":"datum.value % 1 === 0 ? datum.label : ''","tickSize":{"condition":{"test":"datum.value % 1 === 0","value":5},"value":3},"tickColor":"black","tickWidth":1.5,"domainColor":"black","domainWidth":1.5,"labelFontSize":16,"labelPadding":4,"labelFlush":false,"labelOverlap":false,"titleFontSize":20,"titlePadding":22}}}},
{"data":{"name":"b"},"mark":{"type":"rect","strokeWidth":0.6},
"encoding":{"y":{"field":"r","type":"quantitative","bin":{"step":0.2,"extent":[1.2,2.0]},"title":"ρ","scale":{"domain":[0,4],"nice":false,"zero":false}}}},
{"data":{"name":"c"},"mark":{"type":"rect","strokeWidth":0.6},
"encoding":{"y":{"field":"r","type":"quantitative","bin":{"step":0.4,"extent":[2,4]},"title":"ρ","scale":{"domain":[0,4],"nice":false,"zero":false}}}}
]
},
{
"width":46,"height":150,
"data":{"name":"leg"},
"mark":{"type":"rect","strokeWidth":0.6},
"encoding":{
"y":{"field":"lo","type":"quantitative","title":null,"scale":{"domain":[-0.7,1.1],"nice":false,"zero":false},
"axis":{"orient":"right","values":[-0.6,-0.4,-0.2,0,0.2,0.4,0.6,0.8,1],"format":"~g","labelExpr":"replace(datum.label,'−','-')","ticks":false,"domain":false,"labelPadding":6,"labelFontSize":16,"labelFlush":false,"labelOverlap":false}},
"y2":{"field":"hi"},
"color":{"field":"v","type":"quantitative","legend":null,"scale":{"type":"threshold","domain":[-0.6,-0.5,-0.4,-0.3,-0.2,-0.1,0,0.1,0.2,0.3,0.4,0.5,0.6,0.7,0.8,0.9,1.0],"range":["#fffafa","#ffefef","#ffe4e4","#ffd9d9","#ffcece","#ffc3c3","#ffb8b8","#ffadad","#ffa2a2","#ff9898","#ff8d8d","#ff8282","#ff7777","#ff6c6c","#ff6161","#ff5656","#ff4b4b","#ff4040"]}},
"stroke":{"field":"v","type":"quantitative","legend":null,"scale":{"type":"threshold","domain":[-0.6,-0.5,-0.4,-0.3,-0.2,-0.1,0,0.1,0.2,0.3,0.4,0.5,0.6,0.7,0.8,0.9,1.0],"range":["#fffafa","#ffefef","#ffe4e4","#ffd9d9","#ffcece","#ffc3c3","#ffb8b8","#ffadad","#ffa2a2","#ff9898","#ff8d8d","#ff8282","#ff7777","#ff6c6c","#ff6161","#ff5656","#ff4b4b","#ff4040"]}}
}
}
]
}
